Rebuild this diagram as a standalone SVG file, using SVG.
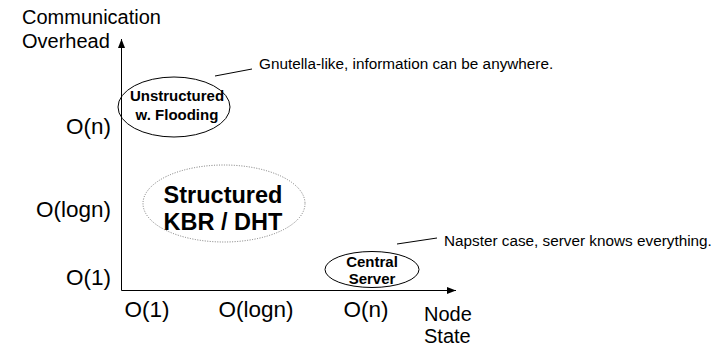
<svg xmlns="http://www.w3.org/2000/svg" width="722" height="348" viewBox="0 0 722 348">
<style>
text{font-family:"Liberation Sans",Arial,sans-serif;fill:#000}
.ax{font-size:22.5px}
.lbl{font-size:20px}
.note{font-size:15.3px}
.b{font-weight:bold}
.line{stroke:#000;stroke-width:1;fill:none}
</style>
<defs>
<marker id="arr" viewBox="0 0 10 10" refX="10" refY="5" markerWidth="9" markerHeight="7" markerUnits="userSpaceOnUse" orient="auto" preserveAspectRatio="none">
<path d="M0,0 L10,5 L0,10 z" fill="#000"/>
</marker>
</defs>
<rect width="722" height="348" fill="#fff"/>
<g id="axes">
<text class="lbl" x="22" y="24">Communication</text>
<text class="lbl" x="22" y="47.5">Overhead</text>
<text class="ax" x="111" y="134" text-anchor="end">O(n)</text>
<text class="ax" x="111" y="217" text-anchor="end">O(logn)</text>
<text class="ax" x="111" y="285" text-anchor="end">O(1)</text>
<text class="ax" x="147" y="317" text-anchor="middle">O(1)</text>
<text class="ax" x="256" y="317" text-anchor="middle">O(logn)</text>
<text class="ax" x="366" y="317" text-anchor="middle">O(n)</text>
<text class="lbl" x="424" y="321">Node</text>
<text class="lbl" x="424" y="343">State</text>
</g>
<g id="connectors">
<line class="line" x1="121.5" y1="290.5" x2="121.5" y2="39" marker-end="url(#arr)"/>
<line class="line" x1="121.5" y1="290.5" x2="456" y2="290.5" marker-end="url(#arr)"/>
<line class="line" x1="215" y1="76" x2="252" y2="69"/>
<line class="line" x1="397" y1="244" x2="437" y2="238"/>
</g>
<g id="unstructured">
<ellipse class="line" cx="174" cy="107" rx="56" ry="30"/>
<text class="b" x="177" y="101" font-size="15" text-anchor="middle">Unstructured</text>
<text class="b" x="177" y="120" font-size="15" text-anchor="middle">w. Flooding</text>
</g>
<g id="structured">
<ellipse cx="224" cy="203.5" rx="81" ry="38.5" fill="none" stroke="#777" stroke-width="1" stroke-dasharray="1,1.5"/>
<text class="b" x="223" y="203" font-size="23.5" text-anchor="middle">Structured</text>
<text class="b" x="223" y="229.5" font-size="23.5" text-anchor="middle">KBR / DHT</text>
</g>
<g id="central">
<ellipse class="line" cx="372" cy="269.5" rx="47" ry="18"/>
<text class="b" x="372" y="266.5" font-size="15" text-anchor="middle">Central</text>
<text class="b" x="372" y="283.5" font-size="15" text-anchor="middle">Server</text>
</g>
<g id="notes">
<text class="note" x="259" y="68.5">Gnutella-like, information can be anywhere.</text>
<text class="note" x="444" y="246">Napster case, server knows everything.</text>
</g>
</svg>
